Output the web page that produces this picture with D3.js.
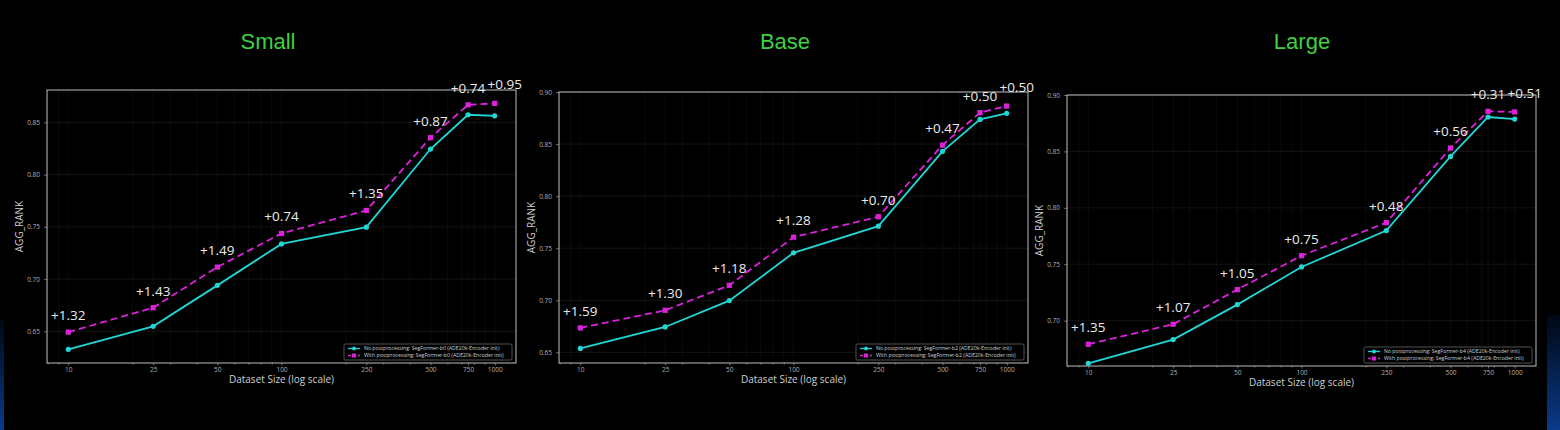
<!DOCTYPE html>
<meta charset="utf-8">
<style>
body { margin: 0; background: #000; }
svg { display: block; }
.title { font: 22px "Liberation Sans", Arial, sans-serif; fill: #3fd13f; text-anchor: middle; }
.tick text { font: 6.5px "Open Sans", sans-serif; fill: #b0b0b0; }
.axisLabel { font: 10px "Open Sans", sans-serif; fill: #cfcfcf; text-anchor: middle; }
.gain { font: 13.5px "Open Sans", sans-serif; fill: #ececec; text-anchor: middle; }
.legendLabel { font: 5.2px "Open Sans", sans-serif; fill: #d0d0d0; }
</style>
<body>
<script src="https://d3js.org/d3.v7.min.js"></script>
<script>

const sizes = [10, 25, 50, 100, 250, 500, 750, 1000];
const titles = ["Small", "Base", "Large"];
const backbones = ["b0", "b2", "b4"];

const smallNoPost   = [0.6328, 0.6548, 0.6940, 0.7337, 0.7497, 0.8245, 0.8573, 0.8563];
const smallWithPost = [0.6493, 0.6726, 0.7115, 0.7437, 0.7657, 0.8354, 0.8668, 0.8682];
const smallGains = ["+1.32", "+1.43", "+1.49", "+0.74", "+1.35", "+0.87", "+0.74", "+0.95"];

const baseNoPost   = [0.6538, 0.6744, 0.6997, 0.7456, 0.7712, 0.8430, 0.8737, 0.8795];
const baseWithPost = [0.6735, 0.6904, 0.7144, 0.7606, 0.7802, 0.8490, 0.8802, 0.8865];
const baseGains = ["+1.59", "+1.30", "+1.18", "+1.28", "+0.70", "+0.47", "+0.50", "+0.50"];

const largeNoPost   = [0.6622, 0.6832, 0.7142, 0.7476, 0.7798, 0.8456, 0.8805, 0.8787];
const largeWithPost = [0.6791, 0.6968, 0.7275, 0.7576, 0.7869, 0.8530, 0.8855, 0.8850];
const largeGains = ["+1.35", "+1.07", "+1.05", "+0.75", "+0.48", "+0.56", "+0.31", "+0.51"];

const smallYTicks = [0.65, 0.70, 0.75, 0.80, 0.85];
const baseYTicks  = [0.65, 0.70, 0.75, 0.80, 0.85, 0.90];
const largeYTicks = [0.70, 0.75, 0.80, 0.85, 0.90];

const noPost = [smallNoPost, baseNoPost, largeNoPost],
      withPost = [smallWithPost, baseWithPost, largeWithPost],
      gains = [smallGains, baseGains, largeGains],
      yTicks = [smallYTicks, baseYTicks, largeYTicks],
      yDomains = [[0.6197, 0.881], [0.6398, 0.90], [0.6598, 0.90]];

// frame of each panel in page pixels
const frames = [
  {left: 47, right: 516, top: 90, bottom: 363, titleX: 268},
  {left: 559, right: 1028, top: 92, bottom: 363, titleX: 785},
  {left: 1067, right: 1536, top: 95, bottom: 366, titleX: 1302}
];

const cyan = "#22d6d6", magenta = "#dd22dd";
const width = 1560, height = 430;

let svg = d3.select("body").append("svg")
            .attr("width", width)
            .attr("height", height);

// faint blue glow in the bottom corners
let defs = svg.append("defs");
let grad = defs.append("linearGradient").attr("id", "glow")
            .attr("x1", 0).attr("y1", 0).attr("x2", 0).attr("y2", 1);
grad.append("stop").attr("offset", "0%").attr("stop-color", "#000814");
grad.append("stop").attr("offset", "100%").attr("stop-color", "#0a3a8a");

svg.append("rect").attr("width", width).attr("height", height).attr("fill", "#000");
svg.append("rect").attr("x", 0).attr("y", 320).attr("width", 4).attr("height", 110).attr("fill", "url(#glow)");
svg.append("rect").attr("x", 1547).attr("y", 315).attr("width", 13).attr("height", 115).attr("fill", "url(#glow)");

// minor log ticks for the grid
const minorTicks = [8, 9, 20, 30, 40, 60, 70, 80, 90, 200, 300, 400, 600, 700, 800, 900];

frames.forEach((f, i) => {
    let g = svg.append("g");

    let x = d3.scaleLog()
              .domain([Math.pow(10, 0.9), Math.pow(10, 3.1)])
              .range([f.left, f.right]);
    let y = d3.scaleLinear()
              .domain(yDomains[i])
              .range([f.bottom, f.top]);

    g.append("text")
        .attr("class", "title")
        .attr("x", f.titleX)
        .attr("y", 49)
        .text(titles[i]);

    // grid
    g.append("g")
        .attr("stroke", "#ffffff")
        .attr("stroke-opacity", 0.08)
        .attr("stroke-width", 0.6)
      .selectAll("line")
      .data(minorTicks.concat(sizes))
      .join("line")
        .attr("x1", d => x(d)).attr("x2", d => x(d))
        .attr("y1", f.top).attr("y2", f.bottom);

    g.append("g")
        .attr("stroke", "#ffffff")
        .attr("stroke-opacity", 0.12)
        .attr("stroke-width", 0.6)
      .selectAll("line")
      .data(yTicks[i])
      .join("line")
        .attr("x1", f.left).attr("x2", f.right)
        .attr("y1", d => y(d)).attr("y2", d => y(d));

    // axes
    g.append("g")
        .attr("transform", `translate(0,${f.bottom})`)
        .call(d3.axisBottom(x).tickValues(sizes).tickFormat(d3.format("d")).tickSize(2.5).tickPadding(1.5));
    g.append("g")
        .attr("transform", `translate(0,${f.bottom})`)
        .call(d3.axisBottom(x).tickValues(minorTicks).tickFormat("").tickSize(1.5));
    g.append("g")
        .attr("transform", `translate(${f.left},0)`)
        .call(d3.axisLeft(y).tickValues(yTicks[i]).tickFormat(d3.format(".2f")).tickSize(3).tickPadding(4));

    g.selectAll(".domain").remove();
    g.selectAll(".tick line").attr("stroke", "#aaa").attr("stroke-width", 0.6);

    g.append("rect")
        .attr("x", f.left).attr("y", f.top)
        .attr("width", f.right - f.left).attr("height", f.bottom - f.top)
        .attr("fill", "none")
        .attr("stroke", "#bdbdbd")
        .attr("stroke-width", 1);

    g.append("text")
        .attr("class", "axisLabel")
        .attr("x", (f.left + f.right) / 2)
        .attr("y", f.bottom + 20)
        .text("Dataset Size (log scale)");

    g.append("text")
        .attr("class", "axisLabel")
        .attr("transform", `translate(${f.left - 24},${(f.top + f.bottom) / 2}) rotate(-90)`)
        .text("AGG_RANK");

    // lines
    let line = d3.line().x((d, j) => x(sizes[j])).y(d => y(d));

    g.append("path")
        .datum(noPost[i])
        .attr("fill", "none")
        .attr("stroke", cyan)
        .attr("stroke-width", 1.8)
        .attr("d", line);

    g.append("path")
        .datum(withPost[i])
        .attr("fill", "none")
        .attr("stroke", magenta)
        .attr("stroke-width", 1.8)
        .attr("stroke-dasharray", "7,4")
        .attr("d", line);

    g.append("g")
      .selectAll("circle")
      .data(noPost[i])
      .join("circle")
        .attr("cx", (d, j) => x(sizes[j]))
        .attr("cy", d => y(d))
        .attr("r", 2.6)
        .attr("fill", cyan);

    g.append("g")
      .selectAll("rect")
      .data(withPost[i])
      .join("rect")
        .attr("x", (d, j) => x(sizes[j]) - 2.6)
        .attr("y", d => y(d) - 2.6)
        .attr("width", 5.2)
        .attr("height", 5.2)
        .attr("fill", magenta);

    // gain labels above the post-processed line; the last one is nudged
    // right so it does not run into its neighbour
    let last = sizes.length - 1;
    g.append("g")
      .selectAll("text")
      .data(gains[i])
      .join("text")
        .attr("class", "gain")
        .attr("x", (d, j) => x(sizes[j]) + (j == last ? 10 : 0))
        .attr("y", (d, j) => y(withPost[i][j]) - (j == last ? 14 : 12))
        .text(d => d);

    // legend
    let lw = 168, lh = 16,
        lx = f.right - lw - 4, ly = f.bottom - lh - 3;
    let legend = g.append("g").attr("transform", `translate(${lx},${ly})`);
    legend.append("rect")
        .attr("width", lw).attr("height", lh)
        .attr("fill", "#000")
        .attr("stroke", "#888")
        .attr("stroke-width", 0.6)
        .attr("rx", 1.5);

    const entries = [
        {label: `No postprocessing: SegFormer-${backbones[i]} (ADE20k-Encoder init)`, color: cyan, dash: null, shape: "circle"},
        {label: `With postprocessing: SegFormer-${backbones[i]} (ADE20k-Encoder init)`, color: magenta, dash: "3,2", shape: "square"}
    ];
    entries.forEach((e, k) => {
        let ey = 4.5 + k * 7;
        legend.append("line")
            .attr("x1", 4).attr("x2", 16)
            .attr("y1", ey).attr("y2", ey)
            .attr("stroke", e.color)
            .attr("stroke-width", 1.3)
            .attr("stroke-dasharray", e.dash);
        if (e.shape == "circle") {
            legend.append("circle").attr("cx", 10).attr("cy", ey).attr("r", 2).attr("fill", e.color);
        } else {
            legend.append("rect").attr("x", 8).attr("y", ey - 2).attr("width", 4).attr("height", 4).attr("fill", e.color);
        }
        legend.append("text")
            .attr("class", "legendLabel")
            .attr("x", 20)
            .attr("y", ey)
            .attr("dy", "0.35em")
            .text(e.label);
    });
});

</script>
